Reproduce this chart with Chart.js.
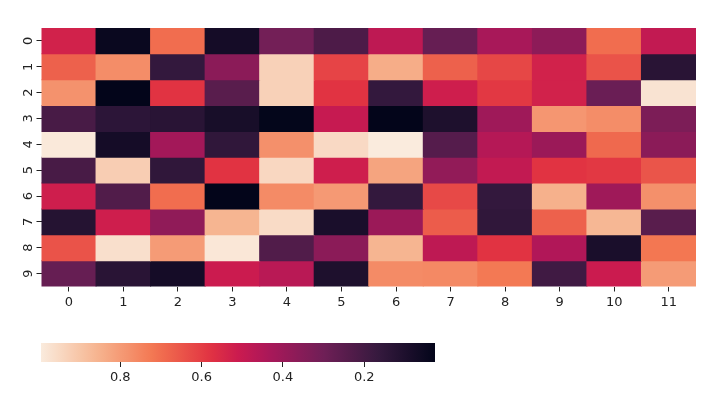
<!DOCTYPE html>
<html>
<head>
<meta charset="utf-8">
<script src="https://cdn.jsdelivr.net/npm/chart.js@4"></script>
<style>
  body { margin: 0; background: #fff; }
  #wrap { position: relative; width: 719px; height: 400px; }
  canvas { position: absolute; left: 0; }
</style>
</head>
<body>
<div id="wrap">
  <canvas id="heat" width="719" height="320" style="top:0"></canvas>
  <canvas id="cbar" width="719" height="80" style="top:320px"></canvas>
</div>
<script>
// tick labels
var colLabels = ['0', '1', '2', '3', '4', '5', '6', '7', '8', '9', '10', '11'];
var rowLabels = ['0', '1', '2', '3', '4', '5', '6', '7', '8', '9'];
var cbarTicks = [0.2, 0.4, 0.6, 0.8];

// cell values, one array per row
var row0 = [0.53, 0.045, 0.70, 0.075, 0.31, 0.22, 0.48, 0.28, 0.43, 0.37, 0.70, 0.49];
var row1 = [0.675, 0.77, 0.16, 0.365, 0.93, 0.615, 0.84, 0.675, 0.62, 0.53, 0.645, 0.13];
var row2 = [0.78, 0.026, 0.58, 0.25, 0.93, 0.58, 0.16, 0.52, 0.59, 0.53, 0.29, 0.975];
var row3 = [0.21, 0.14, 0.13, 0.085, 0.03, 0.50, 0.026, 0.10, 0.41, 0.79, 0.77, 0.33];
var row4 = [0.99, 0.075, 0.42, 0.15, 0.775, 0.95, 0.995, 0.24, 0.46, 0.40, 0.69, 0.365];
var row5 = [0.21, 0.92, 0.15, 0.58, 0.945, 0.52, 0.82, 0.38, 0.49, 0.58, 0.59, 0.65];
var row6 = [0.52, 0.23, 0.70, 0.026, 0.765, 0.795, 0.16, 0.625, 0.16, 0.85, 0.41, 0.775];
var row7 = [0.12, 0.52, 0.375, 0.86, 0.955, 0.09, 0.40, 0.665, 0.15, 0.675, 0.865, 0.25];
var row8 = [0.645, 0.965, 0.80, 0.985, 0.23, 0.365, 0.86, 0.48, 0.58, 0.45, 0.09, 0.72];
var row9 = [0.28, 0.13, 0.075, 0.51, 0.47, 0.10, 0.765, 0.76, 0.725, 0.19, 0.51, 0.80];

var rows = [row0, row1, row2, row3, row4, row5, row6, row7, row8, row9];
var all = [].concat.apply([], rows);
var vmin = Math.min.apply(null, all);
var vmax = Math.max.apply(null, all);

// rocket colormap
var rocketStops = [
  [0.0, [3, 5, 26]],
  [0.143, [53, 25, 62]],
  [0.286, [112, 31, 87]],
  [0.429, [173, 23, 89]],
  [0.5, [203, 27, 79]],
  [0.571, [225, 51, 66]],
  [0.714, [243, 118, 81]],
  [0.857, [246, 180, 143]],
  [1.0, [250, 235, 221]]
];
function rocket(t) {
  t = Math.max(0, Math.min(1, t));
  for (var i = 1; i < rocketStops.length; i++) {
    if (t <= rocketStops[i][0]) {
      var a = rocketStops[i - 1], b = rocketStops[i];
      var f = (t - a[0]) / (b[0] - a[0]);
      var c = a[1].map(function (x, k) { return Math.round(x + (b[1][k] - x) * f); });
      return 'rgb(' + c.join(',') + ')';
    }
  }
}
function colorOf(v) { return rocket((v - vmin) / (vmax - vmin)); }

Chart.defaults.font.family = 'DejaVu Sans';
Chart.defaults.font.size = 13;
Chart.defaults.color = '#222';

var datasets = rows.map(function (vals, r) {
  return {
    data: vals.map(function () { return [r, r + 1]; }),
    backgroundColor: vals.map(colorOf),
    borderWidth: 0,
    inflateAmount: 0.5,
    grouped: false,
    categoryPercentage: 1,
    barPercentage: 1
  };
});

new Chart(document.getElementById('heat').getContext('2d'), {
  type: 'bar',
  data: { labels: colLabels, datasets: datasets },
  options: {
    responsive: false,
    animation: false,
    layout: { padding: { left: 0, right: 23, top: 28, bottom: 0 } },
    plugins: { legend: { display: false }, tooltip: { enabled: false } },
    scales: {
      x: {
        grid: { offset: false, drawOnChartArea: false, tickLength: 5, tickColor: '#222' },
        border: { display: false },
        ticks: { padding: 3 },
        afterFit: function (s) { s.height = 33.5; }
      },
      y: {
        type: 'linear',
        min: 0,
        max: 10,
        reverse: true,
        grid: { drawOnChartArea: false, tickLength: 5, tickColor: '#222' },
        border: { display: false },
        afterBuildTicks: function (s) {
          s.ticks = rowLabels.map(function (l, i) { return { value: i + 0.5 }; });
        },
        ticks: {
          minRotation: 90,
          maxRotation: 90,
          crossAlign: 'center',
          padding: 4,
          callback: function (v) { return rowLabels[Math.floor(v)]; }
        },
        afterFit: function (s) { s.width = 41.5; }
      }
    }
  }
});

// colorbar
var cbarPlugin = {
  id: 'cbarFill',
  beforeDatasetsDraw: function (chart) {
    var ctx = chart.ctx, a = chart.chartArea, xs = chart.scales.x;
    var x0 = xs.getPixelForValue(vmin), x1 = xs.getPixelForValue(vmax);
    var g = ctx.createLinearGradient(x0, 0, x1, 0);
    for (var i = 0; i <= 50; i++) g.addColorStop(i / 50, rocket(i / 50));
    ctx.save();
    ctx.fillStyle = g;
    ctx.fillRect(a.left, a.top, a.right - a.left, a.bottom - a.top);
    ctx.restore();
  }
};

new Chart(document.getElementById('cbar').getContext('2d'), {
  type: 'scatter',
  data: { datasets: [{ data: [] }] },
  plugins: [cbarPlugin],
  options: {
    responsive: false,
    animation: false,
    layout: { padding: { left: 41, right: 284, top: 23, bottom: 0 } },
    plugins: { legend: { display: false }, tooltip: { enabled: false } },
    scales: {
      x: {
        type: 'linear',
        min: vmin,
        max: vmax,
        reverse: true,
        grid: { drawOnChartArea: false, tickLength: 5, tickColor: '#222' },
        border: { display: false },
        afterBuildTicks: function (s) {
          s.ticks = cbarTicks.map(function (v) { return { value: v }; });
        },
        ticks: { padding: 3, callback: function (v) { return v.toFixed(1); } },
        afterFit: function (s) { s.height = 38; }
      },
      y: { display: false }
    }
  }
});
</script>
</body>
</html>
